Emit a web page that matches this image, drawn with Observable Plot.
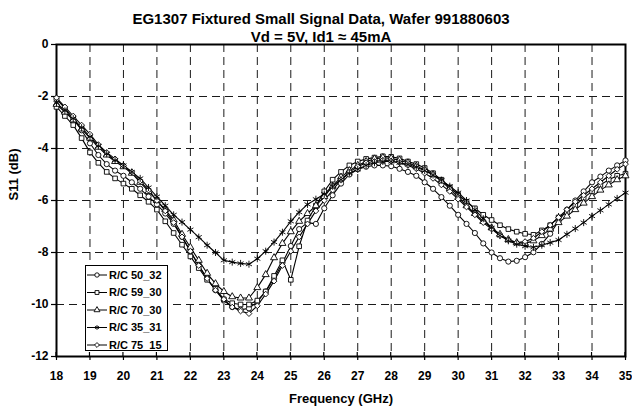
<!DOCTYPE html>
<html>
<head>
<meta charset="utf-8">
<script src="https://cdn.jsdelivr.net/npm/d3@7"></script>
<script src="https://cdn.jsdelivr.net/npm/@observablehq/plot@0.6"></script>
<style>
  body { margin: 0; background: #fff; }
  #chart { width: 632px; height: 414px; }
</style>
</head>
<body>
<div id="chart"></div>
<script>
// Sweep frequencies (GHz), 0.25 GHz steps
const freq = [
  18.00, 18.25, 18.50, 18.75, 19.00, 19.25, 19.50, 19.75,
  20.00, 20.25, 20.50, 20.75, 21.00, 21.25, 21.50, 21.75,
  22.00, 22.25, 22.50, 22.75, 23.00, 23.25, 23.50, 23.75,
  24.00, 24.25, 24.50, 24.75, 25.00, 25.25, 25.50, 25.75,
  26.00, 26.25, 26.50, 26.75, 27.00, 27.25, 27.50, 27.75,
  28.00, 28.25, 28.50, 28.75, 29.00, 29.25, 29.50, 29.75,
  30.00, 30.25, 30.50, 30.75, 31.00, 31.25, 31.50, 31.75,
  32.00, 32.25, 32.50, 32.75, 33.00, 33.25, 33.50, 33.75,
  34.00, 34.25, 34.50, 34.75, 35.00
];

// S11 (dB) per die, one value per frequency
const rc50_32 = [
  -2.10, -2.45, -2.85, -3.30, -3.80, -4.25, -4.60, -4.85,
  -5.05, -5.30, -5.55, -5.85, -6.15, -6.50, -6.90, -7.40,
  -7.95, -8.50, -9.00, -9.45, -9.85, -10.10, -10.20, -10.15,
  -9.90, -9.50, -9.00, -8.40, -7.75, -7.10, -6.85, -6.90,
  -6.30, -5.80, -5.35, -5.00, -4.80, -4.70, -4.65, -4.65,
  -4.68, -4.78, -4.90, -5.05, -5.30, -5.55, -5.87, -6.20,
  -6.55, -6.90, -7.25, -7.65, -8.00, -8.22, -8.35, -8.32,
  -8.18, -7.99, -7.67, -7.28, -6.80, -6.35, -6.00, -5.65,
  -5.30, -5.08, -4.85, -4.65, -4.46
];
const rc59_30 = [
  -2.40, -2.75, -3.10, -3.60, -4.15, -4.55, -4.90, -5.15,
  -5.35, -5.55, -5.80, -6.05, -6.35, -6.80, -7.25, -7.70,
  -8.15, -8.60, -9.05, -9.40, -9.80, -9.95, -10.00, -10.00,
  -9.85, -9.50, -8.90, -8.30, -9.05, -7.76, -6.77, -6.20,
  -5.65, -5.20, -4.90, -4.65, -4.50, -4.40, -4.35, -4.30,
  -4.32, -4.38, -4.50, -4.60, -4.75, -4.95, -5.20, -5.50,
  -5.78, -6.05, -6.30, -6.55, -6.75, -6.95, -7.10, -7.20,
  -7.28, -7.32, -7.15, -6.95, -6.65, -6.45, -6.20, -5.90,
  -5.65, -5.40, -5.20, -5.05, -4.97
];
const rc70_30 = [
  -2.30, -2.60, -2.90, -3.25, -3.60, -3.95, -4.25, -4.50,
  -4.70, -4.95, -5.30, -5.65, -6.00, -6.35, -6.75, -7.30,
  -7.80, -8.30, -8.80, -9.20, -9.50, -9.70, -9.75, -9.75,
  -9.35, -8.85, -8.20, -7.65, -7.20, -6.80, -6.50, -6.20,
  -5.85, -5.45, -5.10, -4.85, -4.65, -4.50, -4.40, -4.35,
  -4.38, -4.45, -4.55, -4.68, -4.82, -5.00, -5.25, -5.55,
  -5.88, -6.20, -6.50, -6.80, -7.05, -7.30, -7.50, -7.62,
  -7.65, -7.55, -7.35, -7.10, -6.85, -6.60, -6.35, -6.10,
  -5.85, -5.60, -5.40, -5.20, -5.05
];
const rc35_31 = [
  -2.25, -2.55, -2.85, -3.20, -3.55, -3.90, -4.20, -4.45,
  -4.65, -4.90, -5.15, -5.50, -5.85, -6.20, -6.55, -6.83,
  -7.12, -7.41, -7.72, -8.00, -8.30, -8.37, -8.42, -8.45,
  -8.24, -7.95, -7.60, -7.22, -6.80, -6.45, -6.15, -5.95,
  -5.75, -5.45, -5.20, -4.95, -4.80, -4.65, -4.55, -4.50,
  -4.50, -4.55, -4.62, -4.72, -4.85, -5.02, -5.22, -5.45,
  -5.70, -6.00, -6.35, -6.70, -7.05, -7.35, -7.55, -7.68,
  -7.76, -7.80, -7.72, -7.62, -7.52, -7.30, -7.08, -6.85,
  -6.60, -6.38, -6.15, -5.92, -5.70
];
const rc75_15 = [
  -2.05, -2.40, -2.75, -3.10, -3.45, -3.85, -4.15, -4.40,
  -4.65, -4.90, -5.25, -5.60, -6.00, -6.40, -6.85, -7.40,
  -7.95, -8.50, -9.00, -9.45, -9.80, -10.10, -10.25, -10.35,
  -10.05, -9.60, -9.10, -8.50, -7.95, -7.40, -6.90, -6.40,
  -6.00, -5.60, -5.20, -4.90, -4.70, -4.55, -4.50, -4.45,
  -4.48, -4.55, -4.65, -4.78, -4.95, -5.15, -5.40, -5.65,
  -5.95, -6.25, -6.55, -6.85, -7.10, -7.35, -7.52, -7.62,
  -7.58, -7.45, -7.20, -6.95, -6.65, -6.35, -6.05, -5.80,
  -5.55, -5.30, -5.05, -4.80, -4.60
];

const seriesNames = ["R/C 50_32", "R/C 59_30", "R/C 70_30", "R/C 35_31", "R/C 75_15"];
const seriesValues = [rc50_32, rc59_30, rc70_30, rc35_31, rc75_15];
const seriesSymbols = ["circle", "square", "triangle", "asterisk", "diamond2"];

const xTicks = [18, 19, 20, 21, 22, 23, 24, 25, 26, 27, 28, 29, 30, 31, 32, 33, 34, 35];
const yTicks = [0, -2, -4, -6, -8, -10, -12];

const titleText = "EG1307 Fixtured Small Signal Data, Wafer 991880603";
const subtitleText = "Vd = 5V, Id1 \u2248 45mA";
const xLabel = "Frequency (GHz)";
const yLabel = "S11 (dB)";

// Long-format table for the line and dot marks
const rows = [];
seriesValues.forEach((vals, s) => {
  vals.forEach((v, i) => rows.push({series: seriesNames[s], freq: freq[i], s11: v}));
});

const font = '"Liberation Sans", Arial, Helvetica, sans-serif';
const fmt = d => String(d);
const starName = "R/C 35_31";

const plot = Plot.plot({
  width: 632,
  height: 414,
  marginTop: 44,
  marginRight: 7,
  marginBottom: 58,
  marginLeft: 56,
  style: {fontFamily: font, fontSize: "12px", fontWeight: "bold", color: "#000", background: "#fff"},
  x: {domain: [18, 35]},
  y: {domain: [-12, 0]},
  symbol: {domain: seriesNames, range: seriesSymbols},
  marks: [
    Plot.gridX(xTicks.slice(1, -1), {stroke: "#1a1a1a", strokeOpacity: 1, strokeWidth: 1, strokeDasharray: "8,5"}),
    Plot.gridY(yTicks.slice(1, -1), {stroke: "#1a1a1a", strokeOpacity: 1, strokeWidth: 1, strokeDasharray: "8,5"}),
    Plot.axisY(yTicks, {tickSize: 5, tickPadding: 3, tickFormat: fmt, label: null, fontSize: 12, strokeWidth: 1.2}),
    Plot.axisX(xTicks, {tickSize: 4, tickPadding: 11, tickFormat: fmt, label: null, fontSize: 12, strokeWidth: 1.2}),
    Plot.frame({stroke: "#000", strokeWidth: 2}),
    Plot.line(rows, {x: "freq", y: "s11", z: "series", stroke: "#000", strokeWidth: 1.1}),
    Plot.dot(rows, {filter: d => d.series !== starName, x: "freq", y: "s11", symbol: "series", r: 2.6, stroke: "#000", fill: "#fff", strokeWidth: 0.9}),
    Plot.dot(rows, {filter: d => d.series === starName, x: "freq", y: "s11", symbol: "series", r: 3.3, stroke: "#000", strokeWidth: 0.9}),
    Plot.text([titleText], {frameAnchor: "top", dx: -20, dy: -31, fontSize: 15, fontWeight: "bold"}),
    Plot.text([subtitleText], {frameAnchor: "top", dx: -20, dy: -13, fontSize: 15, fontWeight: "bold"}),
    Plot.text([xLabel], {frameAnchor: "bottom", dy: 46, fontSize: 13, fontWeight: "bold"}),
    Plot.text([yLabel], {frameAnchor: "left", dx: -43, rotate: -90, fontSize: 13, fontWeight: "bold"})
  ]
});

// Inner half of the crossing x-axis ticks
const sx = plot.scale("x");
const sy = plot.scale("y");
const svg = d3.select(plot);
const y0 = sy.apply(-12);
svg.append("g")
  .attr("stroke", "#000")
  .attr("stroke-width", 1.2)
  .selectAll("line")
  .data(xTicks)
  .join("line")
  .attr("x1", d => sx.apply(d)).attr("x2", d => sx.apply(d))
  .attr("y1", y0 - 4).attr("y2", y0);

// Legend box
const symbolTypes = {
  circle: d3.symbolCircle,
  square: d3.symbolSquare,
  triangle: d3.symbolTriangle,
  asterisk: d3.symbolAsterisk,
  diamond2: d3.symbolDiamond2
};
const legend = svg.append("g")
  .attr("font-family", font)
  .attr("font-weight", "bold")
  .attr("font-size", 11)
  .attr("text-anchor", "start");
legend.append("rect")
  .attr("x", 85.5).attr("y", 265.5).attr("width", 82).attr("height", 85)
  .attr("fill", "#fff").attr("stroke", "#000").attr("stroke-width", 1);
seriesNames.forEach((name, i) => {
  const cy = 275 + i * 17.5;
  const row = legend.append("g");
  row.append("line").attr("x1", 87).attr("x2", 107).attr("y1", cy).attr("y2", cy)
    .attr("stroke", "#000").attr("stroke-width", 1);
  row.append("path")
    .attr("transform", `translate(97,${cy})`)
    .attr("d", d3.symbol(symbolTypes[seriesSymbols[i]], Math.PI * 2.2 * 2.2)())
    .attr("fill", seriesSymbols[i] === "asterisk" ? "none" : "#fff")
    .attr("stroke", "#000").attr("stroke-width", 0.9);
  row.append("text").attr("x", 109).attr("y", cy).attr("dy", "0.35em").attr("fill", "#000").text(name);
});

document.getElementById("chart").appendChild(plot);
</script>
</body>
</html>
